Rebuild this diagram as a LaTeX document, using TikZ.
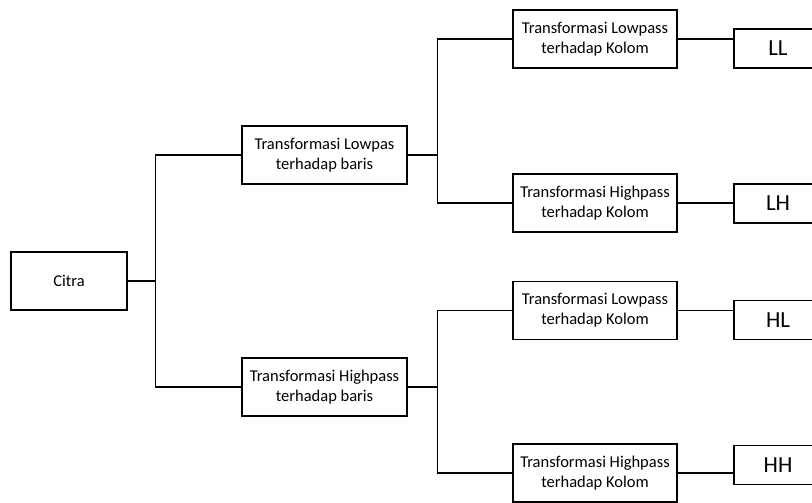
\documentclass[tikz,border=0pt]{standalone}
\usepackage{fontspec}
\setmainfont{Carlito}
\begin{document}
\begin{tikzpicture}[x=1pt,y=-1pt,
  procbox/.style={draw,line width=1.4pt,minimum height=58pt,inner sep=0pt,align=center,
    font=\fontsize{16.5}{20}\selectfont},
  resbox/.style={draw,line width=1.4pt,minimum height=39pt,minimum width=88pt,inner sep=0pt,
    font=\fontsize{23}{26}\selectfont},
  conn/.style={line width=1.4pt}]
\clip (0,0) rectangle (812,503);
\useasboundingbox (0,0) rectangle (812,503);
\node[procbox,minimum width=116pt] (citra) at (69,281) {Citra};
\node[procbox,minimum width=165pt] (lb) at (324.5,155) {Transformasi Lowpas\\terhadap baris};
\node[procbox,minimum width=165pt] (hb) at (324.5,387) {Transformasi Highpass\\terhadap baris};
\node[procbox,minimum width=164pt] (k1) at (595,39) {Transformasi Lowpass\\terhadap Kolom};
\node[procbox,minimum width=164pt] (k2) at (595,203) {Transformasi Highpass\\terhadap Kolom};
\node[procbox,minimum width=164pt] (k3) at (595,310.5) {Transformasi Lowpass\\terhadap Kolom};
\node[procbox,minimum width=164pt] (k4) at (595,473) {Transformasi Highpass\\terhadap Kolom};
\node[resbox] (ll) at (778,48.5) {LL};
\node[resbox] (lh) at (778,203.5) {LH};
\node[resbox] (hl) at (778,320) {HL};
\node[resbox] (hh) at (778,465) {HH};
\draw[conn] (citra.east) -- ++(28,0) coordinate (j1);
\draw[conn] (lb.west) -| (j1) |- (hb.west);
\draw[conn] (lb.east) -- ++(30,0) coordinate (j2);
\draw[conn] (k1.west) -| (j2) |- (k2.west);
\draw[conn] (hb.east) -- ++(30,0) coordinate (j3);
\draw[conn] (k3.west) -| (j3) |- (k4.west);
\draw[conn] (k1.east) -- (k1.east -| ll.west);
\draw[conn] (k2.east) -- (k2.east -| lh.west);
\draw[conn] (k3.east) -- (k3.east -| hl.west);
\draw[conn] (k4.east) -- (k4.east -| hh.west);
\end{tikzpicture}
\end{document}
